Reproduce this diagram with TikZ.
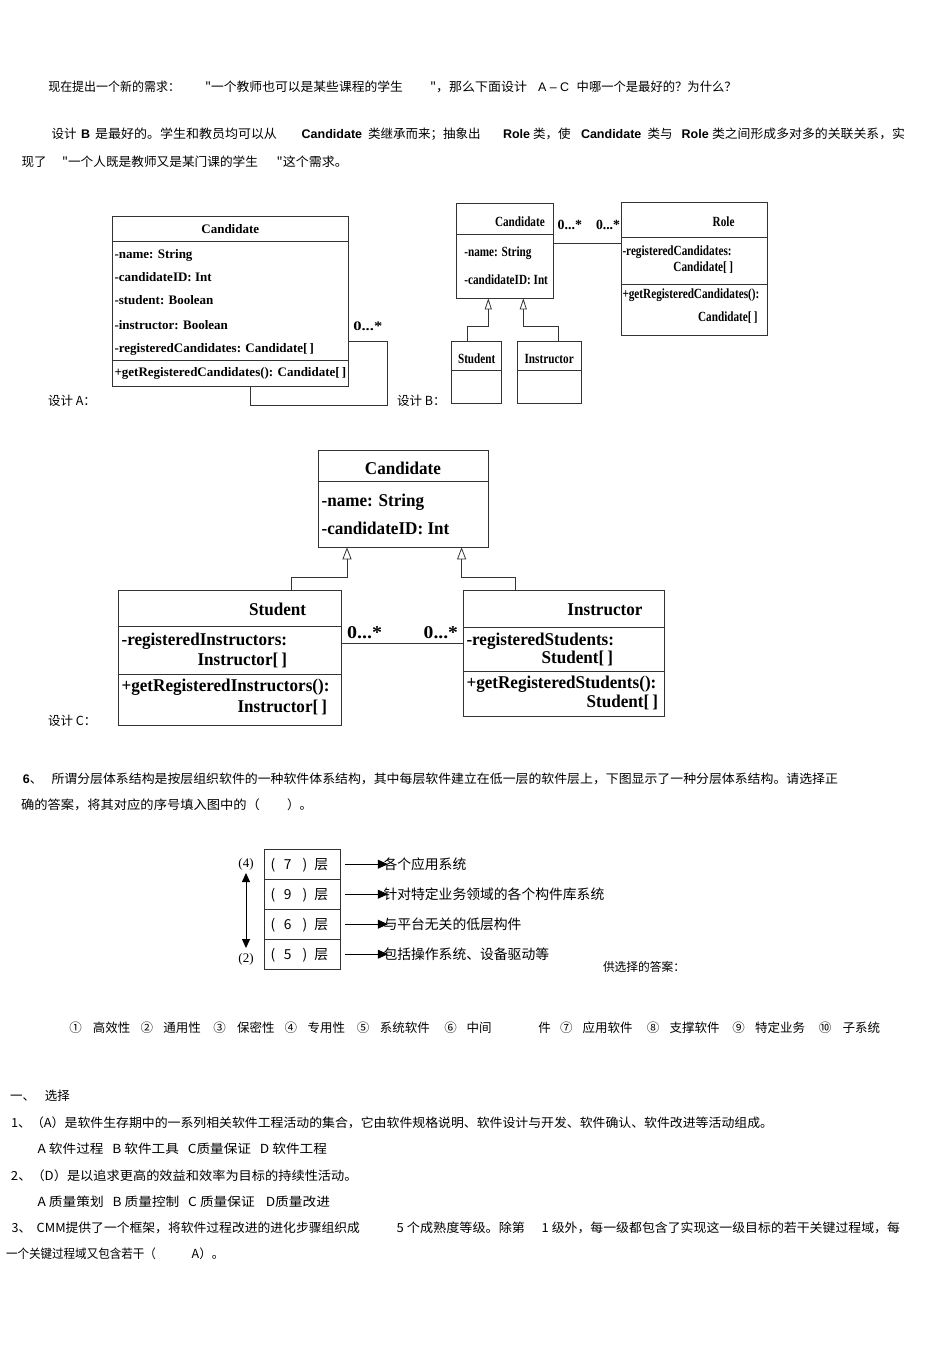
\documentclass[tikz,border=0pt]{standalone}
\usepackage{fontspec}
\usepackage{graphicx}
\setmainfont{Liberation Sans}
\newfontfamily\cjk{Noto Sans CJK SC}
\newfontfamily\lat{Liberation Sans}
\newfontfamily\serf{Liberation Serif}
\newfontfamily\umlA{Liberation Serif}
\newfontfamily\umlB{Liberation Serif}[FakeStretch=0.8]
\newfontfamily\umlC{Liberation Serif}[FakeStretch=0.95]
\usetikzlibrary{arrows.meta}
\newcommand\fitw[2]{\resizebox{#1}{\height}{#2}}
\begin{document}
\begin{tikzpicture}[x=1pt,y=-1pt,
  txt/.style={anchor=base west, inner sep=0pt, outer sep=0pt, font=\cjk\fontsize{12.5}{15}\selectfont},
  txtb/.style={txt, font=\lat\bfseries\fontsize{12.5}{15}\selectfont},
  txtl/.style={txt, font=\lat\fontsize{12.5}{15}\selectfont},
  ua/.style={anchor=base west, inner sep=0pt, outer sep=0pt, font=\umlA\bfseries\fontsize{13}{15}\selectfont},
  ub/.style={anchor=base west, inner sep=0pt, outer sep=0pt, font=\umlB\bfseries\fontsize{14}{16}\selectfont},
  uc/.style={anchor=base west, inner sep=0pt, outer sep=0pt, font=\umlC\bfseries\fontsize{18}{20}\selectfont},
  box/.style={draw=black!80, line width=0.8pt, inner sep=0pt, outer sep=0pt},
  sep/.style={draw=black!80, line width=0.8pt},
  assoc/.style={draw=black!80, line width=0.8pt},
  gen/.style={draw=black!80, line width=0.8pt, -{Triangle[open, length=11pt, width=7pt]}},
  genc/.style={draw=black!80, line width=0.8pt, -{Triangle[open, length=12pt, width=9pt]}},
  lay/.style={draw=black!80, line width=0.8pt, minimum width=76.4pt, minimum height=30pt, inner sep=0pt, outer sep=0pt},
  lt/.style={anchor=base, inner sep=0pt, outer sep=0pt, font=\cjk\fontsize{13.8}{16}\selectfont},
  llab/.style={anchor=base west, inner sep=0pt, outer sep=0pt, font=\cjk\fontsize{13.8}{16}\selectfont},
  arr/.style={draw=black, line width=0.8pt, -{Triangle[length=10pt, width=9pt]}},
  dbl/.style={draw=black, line width=0.8pt, {Triangle[length=9pt, width=8pt]}-{Triangle[length=9pt, width=8pt]}},
  circ/.style={anchor=base, inner sep=0pt, outer sep=0pt, font=\cjk\fontsize{12.5}{15}\selectfont}
]
\fill[white] (0,0) rectangle (950,1345);
\useasboundingbox (0,0) rectangle (950,1345);

% ---------- top paragraph ----------
\node[txt] (l1a) at (48.3,91.7) {\fitw{131.7pt}{现在提出一个新的需求：}};
\node[txt] (l1b) at (205,91.7) {\fitw{198pt}{"一个教师也可以是某些课程的学生}};
\node[txt] (l1c) at (430,91.7) {\fitw{97pt}{"，那么下面设计}};
\node[txtl] (l1d) at (538,91.7) {A – C};
\node[txt] (l1e) at (576.7,91.7) {\fitw{160pt}{中哪一个是最好的？为什么？}};

\node[txt] (l2a) at (51.7,138.4) {设计};
\node[txtb] (l2b) at (81,138.4) {B};
\node[txt] (l2c) at (95,138.4) {\fitw{182pt}{是最好的。学生和教员均可以从}};
\node[txtb] (l2d) at (301.7,138.4) {Candidate};
\node[txt] (l2e) at (368,138.4) {类继承而来；抽象出};
\node[txtb] (l2f) at (503,138.4) {Role};
\node[txt] (l2g) at (533,138.4) {类，使};
\node[txtb] (l2h) at (581,138.4) {Candidate};
\node[txt] (l2i) at (647.7,138.4) {类与};
\node[txtb] (l2j) at (681.7,138.4) {Role};
\node[txt] (l2k) at (712,138.4) {\fitw{193pt}{类之间形成多对多的关联关系，实}};

\node[txt] (l3a) at (21.7,166) {现了};
\node[txt] (l3b) at (62,166) {\fitw{196pt}{"一个人既是教师又是某门课的学生}};
\node[txt] (l3c) at (276.7,166) {\fitw{71.3pt}{"这个需求。}};

% ---------- design labels ----------
\node[txt] (dA) at (48,405.5) {设计 A：};
\node[txt] (dB) at (397,405.5) {设计 B：};
\node[txt] (dC) at (48,725.7) {设计 C：};

% ---------- design A ----------
\node[box, minimum width=236pt, minimum height=170pt] (aC) at (230,301) {};
\draw[sep] (112,241.5) -- (348,241.5);
\draw[sep] (112,360) -- (348,360);
\node[ua, anchor=base] (aT) at (230.3,233.3) {Candidate};
\node[ua] (a1) at (114.5,258.6) {-name: String};
\node[ua] (a2) at (114.5,281.6) {-candidateID: Int};
\node[ua] (a3) at (114.5,304.3) {-student: Boolean};
\node[ua] (a4) at (114.5,329.3) {-instructor: Boolean};
\node[ua] (a5) at (114.5,352.6) {-registeredCandidates: Candidate[\,]};
\node[ua] (a6) at (114.5,376.4) {+getRegisteredCandidates(): Candidate[\,]};
\draw[assoc] ([yshift=-40pt]aC.east) -- ++(39.5,0) -- ++(0,64.5) -| ([xshift=20.5pt]aC.south);
\node[ua] (aM) at (353.3,330) {\fitw{29pt}{0...*}};

% ---------- design B ----------
\node[box, minimum width=96.6pt, minimum height=95pt] (bC) at (505,250.8) {};
\draw[sep] (456.7,234.3) -- (553.3,234.3);
\node[ub] (bCt) at (495,226.3) {Candidate};
\node[ub] (bC1) at (464.3,256.3) {-name: String};
\node[ub] (bC2) at (464.3,284.6) {-candidateID: Int};

\node[box, minimum width=49.3pt, minimum height=61.6pt] (bS) at (476.35,372.5) {};
\draw[sep] (451.7,370) -- (501,370);
\node[ub, anchor=base] (bSt) at (476.7,363.6) {Student};

\node[box, minimum width=64pt, minimum height=61.6pt] (bI) at (549.7,372.5) {};
\draw[sep] (517.7,370) -- (581.7,370);
\node[ub, anchor=base] (bIt) at (549.2,363.6) {Instructor};

\node[box, minimum width=146.7pt, minimum height=132.7pt] (bR) at (694.35,268.65) {};
\draw[sep] (621,237.7) -- (767.7,237.7);
\draw[sep] (621,284.3) -- (767.7,284.3);
\node[ub] (bRt) at (712.7,226.3) {Role};
\node[ub] (bR1) at (622.5,255.6) {-registeredCandidates:};
\node[ub, anchor=base east] (bR2) at (733,271.9) {Candidate[\,]};
\node[ub] (bR3) at (622.5,298.9) {+getRegisteredCandidates():};
\node[ub, anchor=base east] (bR4) at (757.7,321.3) {Candidate[\,]};

\draw[assoc] ([yshift=7.5pt]bC.east) -- ([yshift=7.5pt]bC.east -| bR.west);
\node[ub] (bM1) at (557.7,229.6) {\fitw{24.3pt}{0...*}};
\node[ub] (bM2) at (596,229.6) {\fitw{24pt}{0...*}};

\draw[gen] ([xshift=-9pt]bS.north) -- ++(0,-15) -| ([xshift=-16.7pt]bC.south);
\draw[gen] ([xshift=8.6pt]bI.north) -- ++(0,-15) -| ([xshift=18.3pt]bC.south);

% ---------- design C ----------
\node[box, minimum width=170pt, minimum height=97.3pt] (cC) at (403,498.65) {};
\draw[sep] (318,481) -- (488,481);
\node[uc, anchor=base] (cCt) at (403,474.3) {Candidate};
\node[uc] (cC1) at (321.6,506) {-name: String};
\node[uc] (cC2) at (321.6,534.3) {-candidateID: Int};

\node[box, minimum width=222.8pt, minimum height=134.3pt] (cS) at (229.8,657.85) {};
\draw[sep] (118.4,626.7) -- (341.2,626.7);
\draw[sep] (118.4,674.3) -- (341.2,674.3);
\node[uc, anchor=base] (cSt) at (277.6,615) {Student};
\node[uc] (cS1) at (121.6,645) {-registeredInstructors:};
\node[uc, anchor=base east] (cS2) at (287,665) {Instructor[\,]};
\node[uc] (cS3) at (121.6,691.7) {+getRegisteredInstructors():};
\node[uc, anchor=base east] (cS4) at (327,712.7) {Instructor[\,]};

\node[box, minimum width=200.8pt, minimum height=125.3pt] (cI) at (564.1,653.35) {};
\draw[sep] (463.7,627.3) -- (664.5,627.3);
\draw[sep] (463.7,671) -- (664.5,671);
\node[uc, anchor=base] (cIt) at (605,615.3) {Instructor};
\node[uc] (cI1) at (466.5,645) {-registeredStudents:};
\node[uc, anchor=base east] (cI2) at (613,663.3) {Student[\,]};
\node[uc] (cI3) at (466.5,688.3) {+getRegisteredStudents():};
\node[uc, anchor=base east] (cI4) at (658,707.7) {Student[\,]};

\draw[assoc] ([yshift=14.55pt]cS.east) -- ([yshift=14.55pt]cS.east -| cI.west);
\node[uc] (cM1) at (347,638.3) {\fitw{35pt}{0...*}};
\node[uc] (cM2) at (423.7,638.3) {\fitw{34.3pt}{0...*}};

\draw[genc] ([xshift=61.2pt]cS.north) -- ++(0,-13.4) -| ([xshift=-56pt]cC.south);
\draw[genc] ([xshift=-48.6pt]cI.north) -- ++(0,-13.4) -| ([xshift=58.6pt]cC.south);

% ---------- section 6 ----------
\node[txtb] (s6a) at (23,783.7) {6};
\node[txt] (s6b) at (30,783.7) {、};
\node[txt] (s6c) at (51.5,783.7) {\fitw{786.5pt}{所谓分层体系结构是按层组织软件的一种软件体系结构，其中每层软件建立在低一层的软件层上，下图显示了一种分层体系结构。请选择正}};
\node[txt] (s6d) at (21,809.7) {\fitw{239pt}{确的答案，将其对应的序号填入图中的（}};
\node[txt] (s6e) at (287,809.7) {）。};

% layered diagram
\foreach \i/\yc/\n/\lab in {1/864.2/7/各个应用系统, 2/894.2/9/针对特定业务领域的各个构件库系统, 3/924.2/6/与平台无关的低层构件, 4/954.2/5/包括操作系统、设备驱动等}{
  \node[lay] (r\i) at (302.5,\yc) {};
  \node[lt] (rp\i) at (273,{\yc+5}) {(};
  \node[lt] (rn\i) at (287.7,{\yc+5}) {\n};
  \node[lt] (rq\i) at (305,{\yc+5}) {)};
  \node[llab] (rc\i) at (314.3,{\yc+5.1}) {层};
  \node[llab] (lab\i) at (383.5,{\yc+5.1}) {\lab};
  \draw[arr] ([xshift=4.3pt]r\i.east) -- ([xshift=4.3pt]r\i.east -| lab\i.west);
}
\node[anchor=base, inner sep=0pt, font=\serf\fontsize{13}{15}\selectfont] (n4) at (246,867.5) {(4)};
\node[anchor=base, inner sep=0pt, font=\serf\fontsize{13}{15}\selectfont] (n2) at (246,962) {(2)};
\coordinate (upT) at (246,873);
\coordinate (dnT) at (246,948);
\draw[dbl] (upT) -- (dnT);

\node[txt, font=\cjk\fontsize{12}{14}\selectfont] (ans) at (603,971.4) {\fitw{82pt}{供选择的答案：}};

% choices
\node[circ] (c1) at (75.6,1032.5) {①};
\node[txt] (w1) at (92.8,1032.5) {高效性};
\node[circ] (c2) at (146.8,1032.5) {②};
\node[txt] (w2) at (163.4,1032.5) {通用性};
\node[circ] (c3) at (219.7,1032.5) {③};
\node[txt] (w3) at (237,1032.5) {保密性};
\node[circ] (c4) at (290.9,1032.5) {④};
\node[txt] (w4) at (307.5,1032.5) {专用性};
\node[circ] (c5) at (363,1032.5) {⑤};
\node[txt] (w5) at (379.8,1032.5) {系统软件};
\node[circ] (c6) at (450.5,1032.5) {⑥};
\node[txt] (w6) at (466.5,1032.5) {中间};
\node[txt] (w6b) at (538.3,1032.5) {件};
\node[circ] (c7) at (566.4,1032.5) {⑦};
\node[txt] (w7) at (582.5,1032.5) {应用软件};
\node[circ] (c8) at (653,1032.5) {⑧};
\node[txt] (w8) at (669.7,1032.5) {支撑软件};
\node[circ] (c9) at (738.6,1032.5) {⑨};
\node[txt] (w9) at (755,1032.5) {特定业务};
\node[circ] (c10) at (825,1032.5) {⑩};
\node[txt] (w10) at (842.5,1032.5) {子系统};

% ---------- bottom section ----------
\node[txt] (b0a) at (10,1100) {一、};
\node[txt] (b0b) at (45,1100) {选择};
\node[txt] (b1) at (11,1127.7) {\fitw{762pt}{1、（A）是软件生存期中的一系列相关软件工程活动的集合，它由软件规格说明、软件设计与开发、软件确认、软件改进等活动组成。}};
\node[txt] (b1o) at (37.6,1153) {\fitw{289.4pt}{A 软件过程\hspace{8pt}B 软件工具\hspace{8pt}C质量保证\hspace{8pt}D 软件工程}};
\node[txt] (b2) at (11,1180.4) {\fitw{346.6pt}{2、（D）是以追求更高的效益和效率为目标的持续性活动。}};
\node[txt] (b2o) at (37.6,1206.4) {\fitw{292.4pt}{A 质量策划\hspace{8pt}B 质量控制\hspace{8pt}C 质量保证\hspace{10pt}D质量改进}};
\node[txt] (b3a) at (11.7,1232) {3、};
\node[txt] (b3b) at (36.7,1232) {\fitw{323.3pt}{CMM提供了一个框架，将软件过程改进的进化步骤组织成}};
\node[txt] (b3c) at (396.7,1232) {\fitw{128.3pt}{5 个成熟度等级。除第}};
\node[txt] (b3d) at (541.7,1232) {\fitw{358.3pt}{1 级外，每一级都包含了实现这一级目标的若干关键过程域，每}};
\node[txt] (b3e) at (6,1258.7) {\fitw{150pt}{一个关键过程域又包含若干（}};
\node[txt] (b3f) at (191.7,1258.7) {A）。};
\end{tikzpicture}
\end{document}
